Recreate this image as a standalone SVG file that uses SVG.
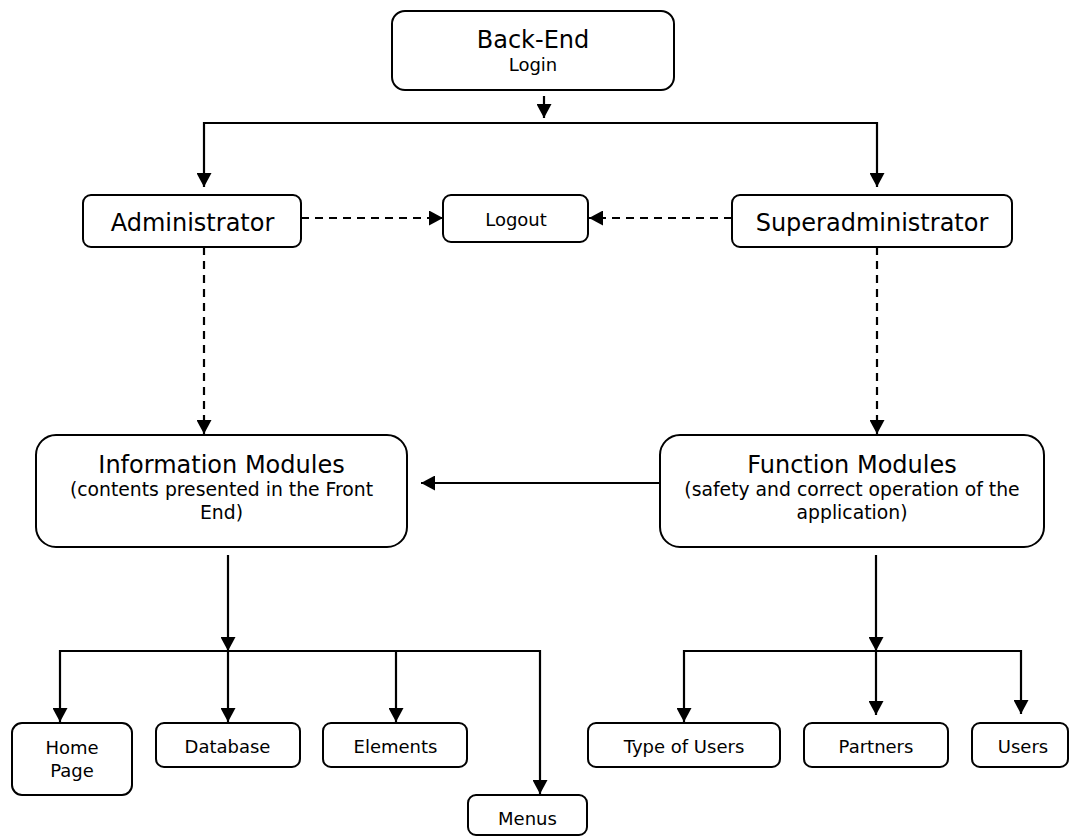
<svg xmlns="http://www.w3.org/2000/svg" width="1071" height="839" viewBox="0 0 1071 839">
<style>
  .box { fill: #ffffff; stroke: #000000; stroke-width: 2; }
  .t { font-family: Verdana, "DejaVu Sans", sans-serif; fill: #000000; text-anchor: middle; }
  .big { font-size: 24px; }
  .sm { font-size: 18px; }
  .sub { font-size: 18.8px; }
  .ln { fill: none; stroke: #000000; stroke-width: 2.2; marker-end: url(#ah); }
  .dash { stroke-dasharray: 8 6; }
</style>
<defs>
  <marker id="ah" markerUnits="userSpaceOnUse" markerWidth="15" markerHeight="15" refX="14" refY="7.5" orient="auto" viewBox="0 0 15 15">
    <path d="M0,0 L14,7.5 L0,15 z" fill="#000000"/>
  </marker>
</defs>
<rect width="1071" height="839" fill="#ffffff"/>

<g id="connectors">
  <path class="ln" d="M544,96 V118"/>
  <path class="ln" d="M544,123 H204 V187"/>
  <path class="ln" d="M544,123 H877 V187"/>
  <path class="ln dash" d="M301,218 H443"/>
  <path class="ln dash" d="M732,218 H589"/>
  <path class="ln dash" d="M204,247 V434"/>
  <path class="ln dash" d="M877,247 V434"/>
  <path class="ln" d="M660,483 H421"/>
  <path class="ln" d="M228,555 V651"/>
  <path class="ln" d="M228,651 H60 V722"/>
  <path class="ln" d="M228,651 V722"/>
  <path class="ln" d="M228,651 H396 V722"/>
  <path class="ln" d="M396,651 H540 V794"/>
  <path class="ln" d="M876,555 V651"/>
  <path class="ln" d="M876,651 H684 V722"/>
  <path class="ln" d="M876,651 V715"/>
  <path class="ln" d="M876,651 H1021 V714"/>
</g>

<g id="backend">
  <rect class="box" x="392" y="11" width="282" height="79" rx="13"/>
  <text class="t big" x="533" y="48">Back-End</text>
  <text class="t sm" x="533" y="71">Login</text>
</g>
<g id="administrator">
  <rect class="box" x="83" y="195" width="218" height="52" rx="8"/>
  <text class="t big" x="192.5" y="231">Administrator</text>
</g>
<g id="logout">
  <rect class="box" x="443" y="195" width="145" height="47" rx="8"/>
  <text class="t sm" x="516" y="226">Logout</text>
</g>
<g id="superadministrator">
  <rect class="box" x="732" y="195" width="280" height="52" rx="8"/>
  <text class="t big" x="872" y="231">Superadministrator</text>
</g>
<g id="information-modules">
  <rect class="box" x="36" y="435" width="371" height="112" rx="20"/>
  <text class="t big" x="221.5" y="473">Information Modules</text>
  <text class="t sub" x="221.5" y="496">(contents presented in the Front</text>
  <text class="t sub" x="221.5" y="519">End)</text>
</g>
<g id="function-modules">
  <rect class="box" x="660" y="435" width="384" height="112" rx="20"/>
  <text class="t big" x="852" y="473">Function Modules</text>
  <text class="t sub" x="852" y="496">(safety and correct operation of the</text>
  <text class="t sub" x="852" y="519">application)</text>
</g>
<g id="home-page">
  <rect class="box" x="12" y="723" width="120" height="72" rx="10"/>
  <text class="t sm" x="72" y="754">Home</text>
  <text class="t sm" x="72" y="777">Page</text>
</g>
<g id="database">
  <rect class="box" x="156" y="723" width="144" height="44" rx="8"/>
  <text class="t sm" x="227.5" y="753">Database</text>
</g>
<g id="elements">
  <rect class="box" x="323" y="723" width="144" height="44" rx="8"/>
  <text class="t sm" x="395.5" y="753">Elements</text>
</g>
<g id="menus">
  <rect class="box" x="468" y="795" width="119" height="40" rx="8"/>
  <text class="t sm" x="527.5" y="825">Menus</text>
</g>
<g id="type-of-users">
  <rect class="box" x="588" y="723" width="192" height="44" rx="8"/>
  <text class="t sm" x="684" y="753">Type of Users</text>
</g>
<g id="partners">
  <rect class="box" x="804" y="723" width="144" height="44" rx="8"/>
  <text class="t sm" x="876" y="753">Partners</text>
</g>
<g id="users">
  <rect class="box" x="972" y="723" width="96" height="44" rx="8"/>
  <text class="t sm" x="1023" y="753">Users</text>
</g>
</svg>
